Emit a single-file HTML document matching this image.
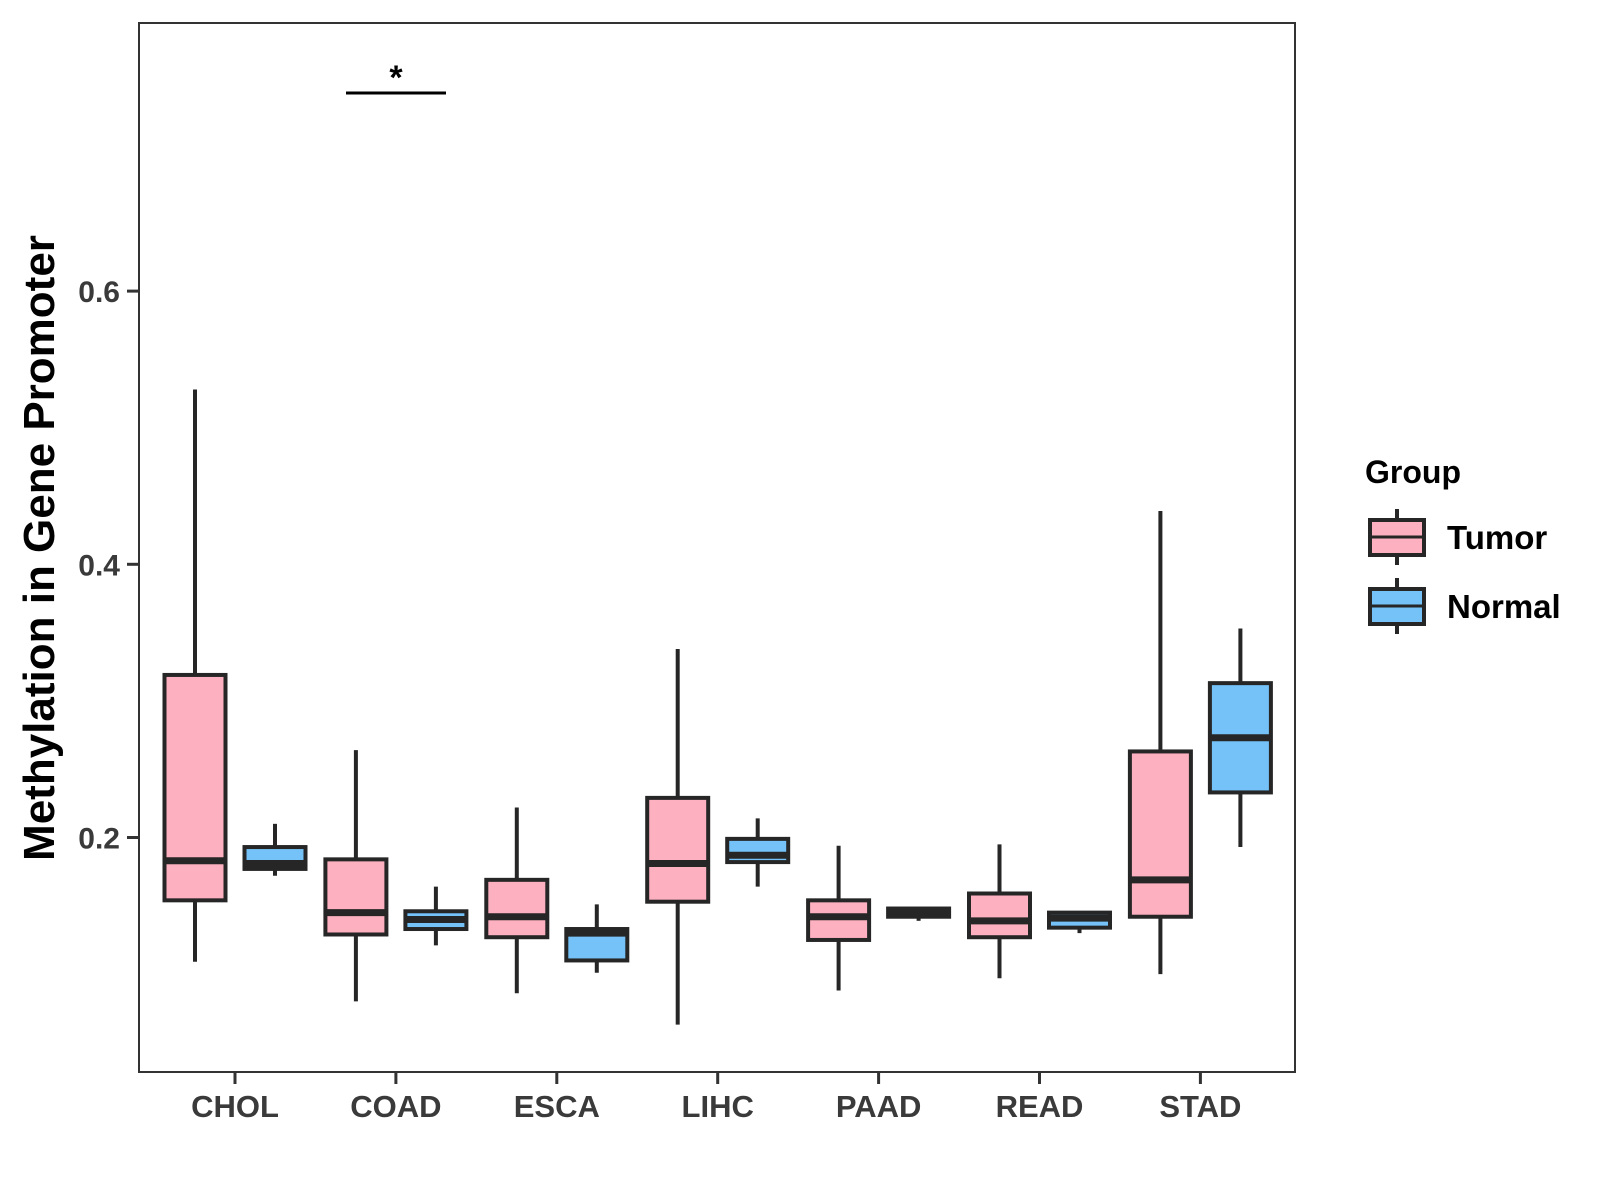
<!DOCTYPE html>
<html><head><meta charset="utf-8"><style>
html,body{margin:0;padding:0;background:#fff}
svg{display:block}
text{font-family:"Liberation Sans",Arial,sans-serif;font-weight:bold}
</style></head><body>
<svg id="chart" width="1600" height="1200" viewBox="0 0 1600 1200">
<rect x="139" y="23" width="1156" height="1049" fill="#fff" stroke="#333" stroke-width="2"/>
<g id="marks"></g>
<g id="axes"></g>
<line x1="346" y1="93" x2="446" y2="93" stroke="#000" stroke-width="3"/>
<text x="396" y="89" font-size="34" text-anchor="middle" fill="#000">*</text>
<text transform="translate(54,548) rotate(-90)" font-size="44" text-anchor="middle" fill="#000">Methylation in Gene Promoter</text>
<g>
<text x="1365" y="483" font-size="32" fill="#000">Group</text>
<g>
<line x1="1397" y1="509" x2="1397" y2="565" stroke="#262626" stroke-width="4"/>
<rect x="1370" y="520" width="54" height="35" fill="#FDB0C0" stroke="#262626" stroke-width="4"/>
<line x1="1370" y1="537" x2="1424" y2="537" stroke="#262626" stroke-width="3"/>
<text x="1447" y="549" font-size="33" fill="#000">Tumor</text></g>
<g>
<line x1="1397" y1="578" x2="1397" y2="634" stroke="#262626" stroke-width="4"/>
<rect x="1370" y="589" width="54" height="35" fill="#74C2F8" stroke="#262626" stroke-width="4"/>
<line x1="1370" y1="606" x2="1424" y2="606" stroke="#262626" stroke-width="3"/>
<text x="1447" y="618" font-size="33" fill="#000">Normal</text></g>
</g>
</svg>
<script>
const categories=["CHOL","COAD","ESCA","LIHC","PAAD","READ","STAD"];
const tumorLow=[0.109,0.080,0.086,0.063,0.088,0.097,0.100];
const tumorQ1=[0.154,0.129,0.127,0.153,0.125,0.127,0.142];
const tumorMed=[0.183,0.145,0.142,0.181,0.142,0.139,0.169];
const tumorQ3=[0.319,0.184,0.169,0.229,0.154,0.159,0.263];
const tumorHigh=[0.528,0.264,0.222,0.338,0.194,0.195,0.439];
const normalLow=[0.172,0.121,0.101,0.164,0.139,0.130,0.193];
const normalQ1=[0.177,0.133,0.110,0.182,0.142,0.134,0.233];
const normalMed=[0.181,0.140,0.130,0.187,0.145,0.141,0.273];
const normalQ3=[0.193,0.146,0.133,0.199,0.148,0.145,0.313];
const normalHigh=[0.210,0.164,0.151,0.214,0.148,0.145,0.353];
const yTicks=[0.2,0.4,0.6];
const yTickLabels=["0.2","0.4","0.6"];

const NS="http://www.w3.org/2000/svg";
function yS(v){return 837.5-(v-0.2)*1366;}
function xS(i){return 235+i*160.9;}
function mk(tag,attrs,parent){const e=document.createElementNS(NS,tag);for(const k in attrs)e.setAttribute(k,attrs[k]);parent.appendChild(e);return e;}
const marks=document.getElementById('marks');
const axes=document.getElementById('axes');
const series=[
 {key:'tumor',off:-40,fill:'#FDB0C0',lo:tumorLow,q1:tumorQ1,md:tumorMed,q3:tumorQ3,hi:tumorHigh},
 {key:'normal',off:40,fill:'#74C2F8',lo:normalLow,q1:normalQ1,md:normalMed,q3:normalQ3,hi:normalHigh}];
const bw=61;
categories.forEach((c,i)=>{
 series.forEach(s=>{
  const cx=xS(i)+s.off;
  const g=mk('g',{},marks);
  
  
  mk('line',{x1:cx,x2:cx,y1:yS(s.hi[i]),y2:yS(s.lo[i]),stroke:'#262626','stroke-width':4},g);
  mk('rect',{x:cx-bw/2,y:yS(s.q3[i]),width:bw,height:Math.max(1,yS(s.q1[i])-yS(s.q3[i])),fill:s.fill,stroke:'#262626','stroke-width':4},g);
  mk('line',{x1:cx-bw/2,x2:cx+bw/2,y1:yS(s.md[i]),y2:yS(s.md[i]),stroke:'#262626','stroke-width':7},g);
 });
 const t=mk('line',{x1:xS(i),x2:xS(i),y1:1072,y2:1084,stroke:'#333','stroke-width':3},axes);
 
 
 const l=mk('text',{x:xS(i),y:1117,'font-size':31,'text-anchor':'middle',fill:'#3a3a3a'},axes);
 
 
 l.textContent=c;
});
yTicks.forEach((v,i)=>{
 const t=mk('line',{x1:127,x2:139,y1:yS(v),y2:yS(v),stroke:'#333','stroke-width':3},axes);
 
 
 const l=mk('text',{x:120,y:yS(v)+11,'font-size':30,'text-anchor':'end',fill:'#3a3a3a'},axes);
 
 
 l.textContent=yTickLabels[i];
});
</script>
</body></html>
